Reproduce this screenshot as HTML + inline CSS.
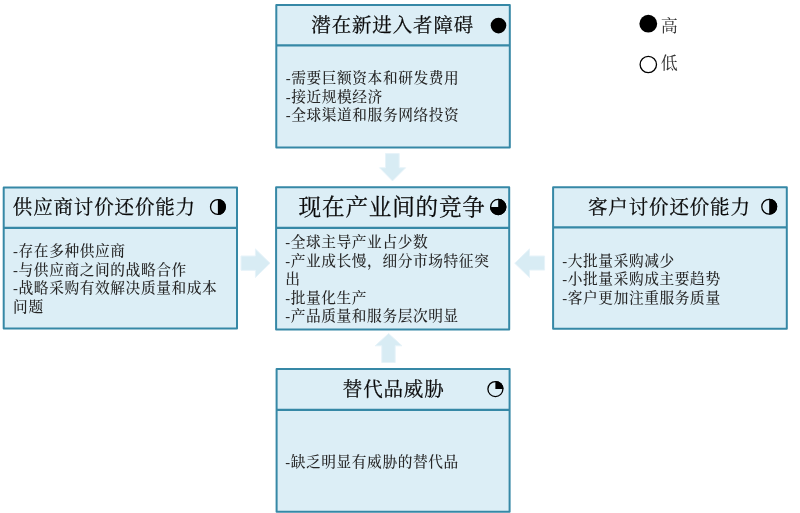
<!DOCTYPE html>
<html lang="zh-CN">
<head>
<meta charset="utf-8">
<title>五力分析</title>
<style>
  html, body { margin: 0; padding: 0; background: #ffffff; }
  body { width: 800px; height: 513px; position: relative; overflow: hidden;
         font-family: "Liberation Serif", "Noto Serif CJK SC", serif; }
  #shapes { position: absolute; left: 0; top: 0; width: 800px; height: 513px; }
  .t { position: absolute; white-space: nowrap; color: #0a0a0a; font-size: 19.5px;
       letter-spacing: 0.85px; line-height: 24px; height: 24px; font-weight: 400; -webkit-text-stroke: 0.25px #0a0a0a; }
  .t.big { font-size: 22.6px; letter-spacing: 0.8px; line-height: 28px; height: 28px; }
  .b { position: absolute; white-space: nowrap; color: #262626; font-size: 14.7px;
       letter-spacing: 0.6px; line-height: 18.4px; font-weight: 500; }
  #txt { position: absolute; left: 0; top: 0; width: 800px; height: 513px; will-change: transform; }
  .lg { position: absolute; white-space: nowrap; color: #333333; font-size: 17px;
        line-height: 20px; height: 20px; }
</style>
</head>
<body>
<svg id="shapes" width="800" height="513" viewBox="0 0 800 513">
  <g fill="#dceef6" stroke="#3688a6" stroke-width="2" stroke-linejoin="round">
    <!-- top -->
    <rect x="276.3" y="5" width="233.5" height="142.6"/>
    <!-- left -->
    <rect x="3.7" y="187.5" width="233.3" height="141"/>
    <!-- center -->
    <rect x="276.1" y="187.3" width="233.1" height="142.1"/>
    <!-- right -->
    <rect x="553.1" y="187.3" width="233.7" height="141.4"/>
    <!-- bottom -->
    <rect x="276.6" y="369.1" width="233" height="142.6"/>
  </g>
  <g stroke="#3688a6" stroke-width="2.2" fill="none">
    <line x1="276.3" y1="45.4" x2="509.8" y2="45.4"/>
    <line x1="3.7" y1="227.95" x2="237" y2="227.95"/>
    <line x1="276.1" y1="227.9" x2="509.2" y2="227.9"/>
    <line x1="553.1" y1="227.4" x2="786.8" y2="227.4"/>
    <line x1="276.6" y1="409.8" x2="509.6" y2="409.8"/>
  </g>
  <!-- arrows -->
  <g fill="#d8ecf4" stroke="#e7f3f9" stroke-width="1" stroke-linejoin="miter">
    <!-- down -->
    <polygon points="385.5,153.6 399.2,153.6 399.2,167.8 405.6,167.8 392.5,180.9 379.6,167.8 385.5,167.8"/>
    <!-- up -->
    <polygon points="381.8,362.5 395.2,362.5 395.2,345.8 402,345.8 388.6,333.5 375.2,345.8 381.8,345.8"/>
    <!-- right -->
    <polygon points="241,256 255.4,256 255.4,248.9 270,263.2 255.4,277.5 255.4,270.3 241,270.3"/>
    <!-- left -->
    <polygon points="544.6,256 529.5,256 529.5,248.9 514.7,263.2 529.5,277.5 529.5,270.1 544.6,270.1"/>
  </g>
  <!-- indicator circles -->
  <!-- top: full -->
  <circle cx="498.5" cy="25.6" r="7.8" fill="#000"/>
  <!-- left: half (right side filled) -->
  <g>
    <circle cx="217.9" cy="207" r="7.4" fill="none" stroke="#000" stroke-width="1.3"/>
    <path d="M217.9,199 A8,8 0 0 1 217.9,215 Z" fill="#000"/>
  </g>
  <!-- right: half -->
  <g>
    <circle cx="769.2" cy="206.7" r="7.4" fill="none" stroke="#000" stroke-width="1.3"/>
    <path d="M769.2,198.7 A8,8 0 0 1 769.2,214.7 Z" fill="#000"/>
  </g>
  <!-- center: three quarters -->
  <g>
    <circle cx="498.2" cy="207" r="7.6" fill="none" stroke="#000" stroke-width="1.3"/>
    <path d="M498.2,207 L498.2,198.8 A8.2,8.2 0 1 1 490,207 Z" fill="#000"/>
  </g>
  <!-- bottom: one quarter -->
  <g>
    <circle cx="495.4" cy="389.1" r="7.5" fill="none" stroke="#000" stroke-width="1.3"/>
    <path d="M495.4,389.1 L495.4,381 A8.1,8.1 0 0 1 503.5,389.1 Z" fill="#000"/>
  </g>
  <!-- legend -->
  <circle cx="648.3" cy="23.7" r="8.9" fill="#000"/>
  <circle cx="648.3" cy="64.5" r="8.2" fill="none" stroke="#000" stroke-width="1.3"/>
</svg>

<div id="txt">
<div class="t" style="left:311.3px; top:14.3px;">潜在新进入者障碍</div>
<div class="t" style="left:12.8px; top:196.2px;">供应商讨价还价能力</div>
<div class="t big" style="left:298.6px; top:193.6px;">现在产业间的竞争</div>
<div class="t" style="left:588px; top:195.8px;">客户讨价还价能力</div>
<div class="t" style="left:342.8px; top:378.3px;">替代品威胁</div>

<div class="b" style="left:285.7px; top:69.3px;">-需要巨额资本和研发费用<br>-接近规模经济<br>-全球渠道和服务网络投资</div>
<div class="b" style="left:13.1px; top:242.4px;">-存在多种供应商<br>-与供应商之间的战略合作<br>-战略采购有效解决质量和成本<br>问题</div>
<div class="b" style="left:285.2px; top:233.3px;">-全球主导产业占少数<br>-产业成长慢，细分市场特征突<br>出<br>-批量化生产<br>-产品质量和服务层次明显</div>
<div class="b" style="left:562.3px; top:251.9px;">-大批量采购减少<br>-小批量采购成主要趋势<br>-客户更加注重服务质量</div>
<div class="b" style="left:285.2px; top:452.6px;">-缺乏明显有威胁的替代品</div>

<div class="lg" style="left:660.8px; top:17px;">高</div>
<div class="lg" style="left:660.8px; top:53.5px;">低</div>
</div>
</body>
</html>
